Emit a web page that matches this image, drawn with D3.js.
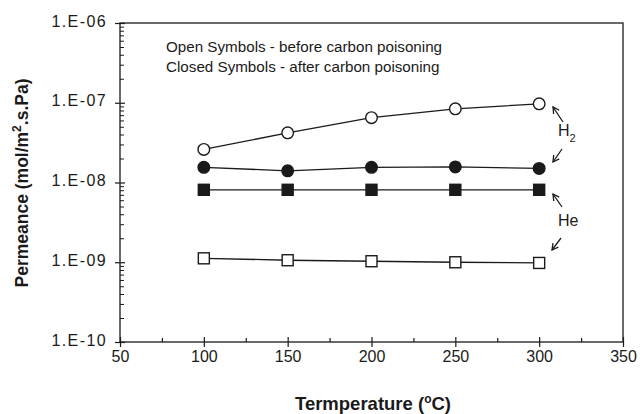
<!DOCTYPE html>
<html>
<head>
<meta charset="utf-8">
<script src="https://cdn.jsdelivr.net/npm/d3@7"></script>
<style>
  html, body { margin: 0; padding: 0; background: #fff; }
  svg { display: block; font-family: "Liberation Sans", Arial, sans-serif; }
</style>
</head>
<body>
<svg id="chart" width="642" height="414"></svg>
<script>
// Temperatures (°C) at which permeance was measured
const temperatures = [100, 150, 200, 250, 300];

// Permeance (mol/m².s.Pa)
const h2Before = [2.6e-8, 4.2e-8, 6.5e-8, 8.4e-8, 9.7e-8];
const h2After  = [1.55e-8, 1.4e-8, 1.55e-8, 1.57e-8, 1.5e-8];
const heAfter  = [8.1e-9, 8.1e-9, 8.1e-9, 8.1e-9, 8.1e-9];
const heBefore = [1.12e-9, 1.06e-9, 1.03e-9, 1.0e-9, 0.98e-9];

const xTicks = [50, 100, 150, 200, 250, 300, 350];
const yTicks = [1e-10, 1e-9, 1e-8, 1e-7, 1e-6];
const yTickLabels = ["1.E-10", "1.E-09", "1.E-08", "1.E-07", "1.E-06"];

const legendLines = [
  "Open Symbols - before carbon poisoning",
  "Closed Symbols - after carbon poisoning"
];

const series = [
  { values: h2Before, shape: "circle", filled: false },
  { values: h2After,  shape: "circle", filled: true },
  { values: heAfter,  shape: "square", filled: true },
  { values: heBefore, shape: "square", filled: false }
];

const svg = d3.select("#chart");
const m = { left: 120, right: 19, top: 23, bottom: 72 };
const W = 642, H = 414;

const x = d3.scaleLinear().domain([50, 350]).range([m.left, W - m.right]);
const y = d3.scaleLog().domain([1e-10, 1e-6]).range([H - m.bottom, m.top]);

const ink = "#1a1a1a";

// frame
svg.append("rect")
  .attr("x", x(50)).attr("y", y(1e-6))
  .attr("width", x(350) - x(50)).attr("height", y(1e-10) - y(1e-6))
  .attr("fill", "none").attr("stroke", ink).attr("stroke-width", 1.3);

// x axis: major ticks crossing the axis, minor ticks inside
const gx = svg.append("g").attr("transform", `translate(0,${y(1e-10)})`);
gx.append("g")
  .call(d3.axisBottom(x).tickValues(xTicks).tickSize(5).tickFormat(d3.format("d")))
  .call(g => g.select(".domain").remove())
  .call(g => g.selectAll(".tick line").attr("y1", -5).attr("stroke", ink).attr("stroke-width", 1.2))
  .call(g => g.selectAll(".tick text")
    .attr("y", 20).attr("dy", 0)
    .attr("font-size", 16).attr("fill", ink)
    .attr("font-family", "Liberation Sans, Arial, sans-serif"));
gx.append("g")
  .call(d3.axisBottom(x).tickValues(d3.range(75, 350, 50)).tickSize(-4).tickFormat(""))
  .call(g => g.select(".domain").remove())
  .call(g => g.selectAll(".tick line").attr("stroke", ink).attr("stroke-width", 1.2));

// y axis: log decades crossing, minor ticks inside
const gy = svg.append("g").attr("transform", `translate(${x(50)},0)`);
gy.append("g")
  .call(d3.axisLeft(y).tickValues(yTicks).tickSize(5)
    .tickFormat((d, i) => yTickLabels[i]))
  .call(g => g.select(".domain").remove())
  .call(g => g.selectAll(".tick line").attr("x1", 5).attr("stroke", ink).attr("stroke-width", 1.2))
  .call(g => g.selectAll(".tick text")
    .attr("x", -13).attr("dy", "0.2em")
    .attr("font-size", 16).attr("letter-spacing", 1.4).attr("fill", ink)
    .attr("font-family", "Liberation Sans, Arial, sans-serif"));
const minor = [];
yTicks.slice(0, -1).forEach(d => { for (let k = 2; k <= 9; k++) minor.push(d * k); });
gy.append("g")
  .call(d3.axisLeft(y).tickValues(minor).tickSize(-4).tickFormat(""))
  .call(g => g.select(".domain").remove())
  .call(g => g.selectAll(".tick line").attr("stroke", ink).attr("stroke-width", 1));

// axis titles
svg.append("text")
  .attr("x", 373).attr("y", 410)
  .attr("text-anchor", "middle")
  .attr("font-size", 18.5).attr("font-weight", "bold").attr("fill", ink)
  .html('Termperature (<tspan baseline-shift="super" font-size="12">o</tspan>C)');

svg.append("text")
  .attr("transform", "translate(28,183) rotate(-90)")
  .attr("text-anchor", "middle")
  .attr("font-size", 17.5).attr("font-weight", "bold").attr("fill", ink)
  .html('Permeance (mol/m<tspan baseline-shift="super" font-size="12">2</tspan>.s.Pa)');

// legend note
svg.selectAll("text.note").data(legendLines).join("text")
  .attr("class", "note")
  .attr("x", 166).attr("y", (d, i) => 52 + i * 20)
  .attr("font-size", 15.2).attr("fill", ink)
  .text(d => d);

// series lines and markers
const line = d3.line().x((d, i) => x(temperatures[i])).y(d => y(d));
series.forEach(s => {
  svg.append("path").datum(s.values)
    .attr("d", line).attr("fill", "none")
    .attr("stroke", ink).attr("stroke-width", 1.3);
  const g = svg.append("g");
  if (s.shape === "circle") {
    g.selectAll("circle").data(s.values).join("circle")
      .attr("cx", (d, i) => x(temperatures[i])).attr("cy", d => y(d))
      .attr("r", 5.8)
      .attr("fill", s.filled ? ink : "#fff")
      .attr("stroke", ink).attr("stroke-width", 1.4);
  } else {
    g.selectAll("rect").data(s.values).join("rect")
      .attr("x", (d, i) => x(temperatures[i]) - 5.5).attr("y", d => y(d) - 5.5)
      .attr("width", 11).attr("height", 11)
      .attr("fill", s.filled ? ink : "#fff")
      .attr("stroke", ink).attr("stroke-width", 1.4);
  }
});

// gas labels with pointer arrows
const arrowHead = (g, x1, y1, x2, y2) => {
  g.append("line").attr("x1", x1).attr("y1", y1).attr("x2", x2).attr("y2", y2)
    .attr("stroke", ink).attr("stroke-width", 1.3);
  const a = Math.atan2(y2 - y1, x2 - x1), L = 7, w = 0.5;
  g.append("path")
    .attr("d", `M${x2 + L * Math.cos(a + Math.PI - w)},${y2 + L * Math.sin(a + Math.PI - w)}L${x2},${y2}L${x2 + L * Math.cos(a + Math.PI + w)},${y2 + L * Math.sin(a + Math.PI + w)}`)
    .attr("fill", "none").attr("stroke", ink).attr("stroke-width", 1.3);
};
const ann = svg.append("g");
arrowHead(ann, 563, 122, 553, 107);
arrowHead(ann, 562, 149, 553, 162);
arrowHead(ann, 562, 207, 553, 194);
arrowHead(ann, 561, 238, 552, 250);

ann.append("text").attr("x", 558).attr("y", 136)
  .attr("font-size", 16).attr("fill", ink)
  .html('H<tspan baseline-shift="sub" font-size="11">2</tspan>');
ann.append("text").attr("x", 558).attr("y", 226)
  .attr("font-size", 16).attr("fill", ink)
  .text("He");
</script>
</body>
</html>
